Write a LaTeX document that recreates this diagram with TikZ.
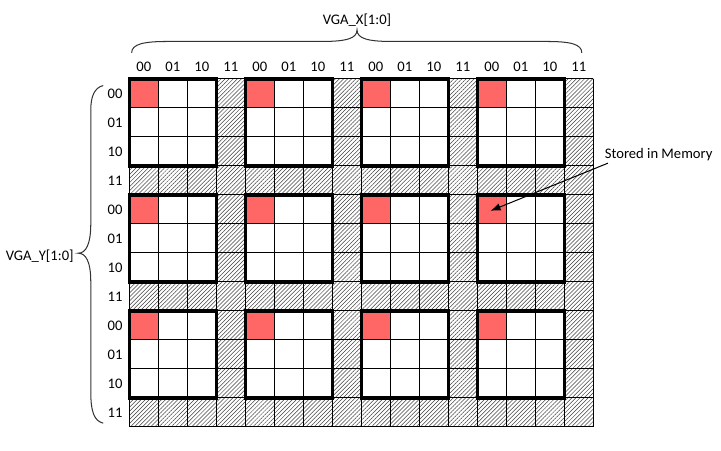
\documentclass[tikz,border=0pt]{standalone}
\usepackage{fontspec}
\setmainfont{Carlito}
\usepackage{tikz}
\usetikzlibrary{arrows.meta,patterns.meta,positioning}
\definecolor{memred}{HTML}{FF6666}
\tikzset{
    cell/.style={draw=black, line width=0.6pt},
    hatch/.style={pattern={Lines[angle=45,distance=1.7pt,line width=0.3pt]}, pattern color=black!75},
    stored/.style={fill=memred},
    block/.style={draw=black, line width=2pt},
    lbl/.style={inner sep=0pt, font=\fontsize{8.6}{10}\selectfont},
    brc/.style={draw=black!80, line width=0.6pt},
    pil/.style={-{Latex[length=6pt,width=4.5pt]}, line width=0.6pt}
}

\begin{document}
\begin{tikzpicture}[x=0.6cm, y=0.6cm]
    \useasboundingbox (-4.46,2.72) rectangle (20.40,-12.83);

    % unused cells hatched, 3x3 blocks kept
    \fill[hatch] (0,0) rectangle (16,-12);
    \foreach \bx in {0,4,8,12}{
      \foreach \by in {0,4,8}{
        \fill[white] (\bx,-\by) rectangle ++(3,-3);
        \fill[stored] (\bx,-\by) rectangle ++(1,-1);
      }
    }
    \foreach \c in {0,...,16} \draw[cell] (\c,0) -- (\c,-12);
    \foreach \r in {0,...,12} \draw[cell] (0,-\r) -- (16,-\r);
    \foreach \bx in {0,4,8,12}{
      \foreach \by in {0,4,8}{
        \draw[block] (\bx,-\by) rectangle ++(3,-3);
      }
    }

    % address bits
    \foreach \k in {0,1,2,3}{
      \foreach \t [count=\i from 0] in {00,01,10,11}{
        \node[lbl] (col\k\i) at (4*\k+\i+0.5, 0.4) {\t};
      }
    }
    \foreach \k in {0,1,2}{
      \foreach \t [count=\i from 0] in {00,01,10,11}{
        \node[lbl] (row\k\i) at (-0.49, -4*\k-\i-0.5) {\t};
      }
    }

    % braces
    \draw[brc] (0.08,0.90) .. controls (0.08,1.2) and (0.5,1.29) .. (1.29,1.29)
      -- (6.63,1.29) .. controls (7.5,1.29) and (7.85,1.4) .. (7.85,1.69)
      .. controls (7.85,1.4) and (8.2,1.29) .. (9.05,1.29)
      -- (14.4,1.29) .. controls (15.2,1.29) and (15.6,1.2) .. (15.6,0.90);
    \draw[brc] (-0.9,-0.23) .. controls (-1.2,-0.3) and (-1.33,-0.6) .. (-1.33,-1.07)
      -- (-1.33,-5.0) .. controls (-1.33,-5.7) and (-1.5,-6.01) .. (-1.76,-6.01)
      .. controls (-1.5,-6.01) and (-1.33,-6.3) .. (-1.33,-7.0)
      -- (-1.33,-10.8) .. controls (-1.33,-11.5) and (-1.2,-11.8) .. (-0.9,-11.87);

    \node[lbl] (vgax) at (7.85,2.03) {VGA\_X[1:0]};
    \node[lbl] (vgay) at (-3.09,-6.1) {VGA\_Y[1:0]};

    \node[lbl] (stored) at (18.25,-2.62) {Stored in Memory};
    \coordinate (mem) at (12.45,-4.55);
    \draw[pil] ([xshift=2pt,yshift=-1pt]stored.south west) -- (mem);
\end{tikzpicture}
\end{document}
